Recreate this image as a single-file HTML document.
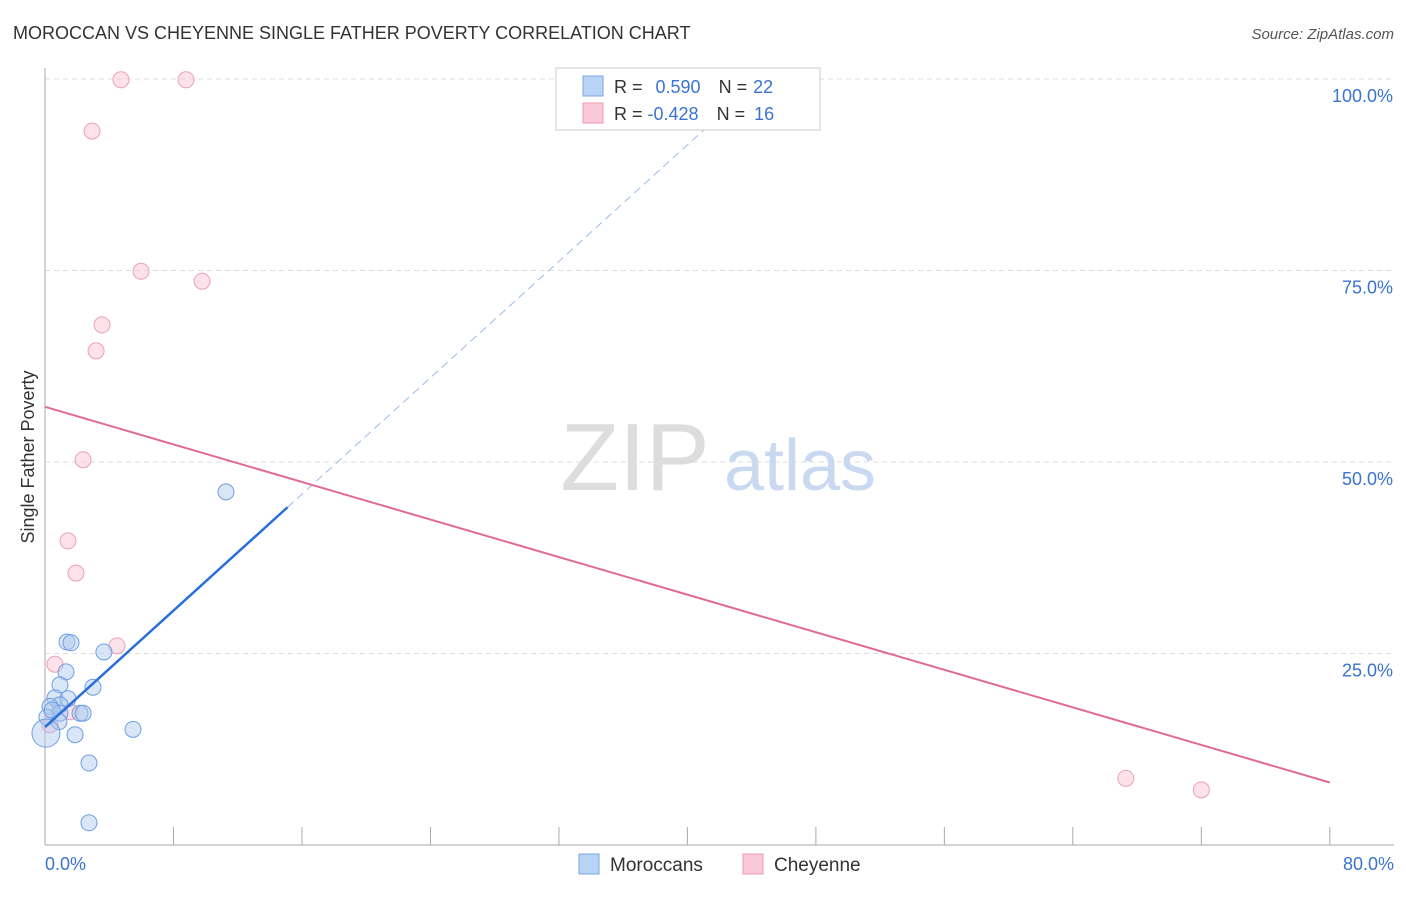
<!DOCTYPE html>
<html><head><meta charset="utf-8"><style>
body{margin:0;background:#fff;font-family:"Liberation Sans",sans-serif}
svg text{font-family:"Liberation Sans",sans-serif}
</style></head><body>
<svg width="1406" height="892">
<text x="13" y="39" font-size="18" fill="#333">MOROCCAN VS CHEYENNE SINGLE FATHER POVERTY CORRELATION CHART</text>
<text x="1394" y="39" font-size="15" fill="#555" font-style="italic" text-anchor="end">Source: ZipAtlas.com</text>
<g id="grid"></g>
<text x="635" y="490" font-size="96" fill="#ddd" font-family="Liberation Serif" text-anchor="middle">ZIP</text>
<text x="800" y="490" font-size="72" fill="#c9d9f0" text-anchor="middle">atlas</text>
<line x1="45" y1="68" x2="45" y2="845" stroke="#aaa"/>
<line x1="45" y1="845" x2="1394" y2="845" stroke="#aaa"/>
<text x="34" y="457" font-size="18" fill="#333" text-anchor="middle" transform="rotate(-90 34 457)">Single Father Poverty</text>
<text x="45" y="870" font-size="18" fill="#3a73d0">0.0%</text>
<text x="1394" y="870" font-size="18" fill="#3a73d0" text-anchor="end">80.0%</text>
<g id="marks"></g>
<rect x="556" y="68" width="264" height="62" fill="#fff" stroke="#ccc"/>
<rect x="583" y="76" width="20" height="20" fill="#b9d3f5" stroke="#7aa6e6"/>
<rect x="583" y="103" width="20" height="20" fill="#fac8d6" stroke="#ec9ab2"/>
<text x="614" y="93" font-size="18" fill="#333">R = <tspan fill="#3a73d0" dx="8">0.590</tspan><tspan dx="18" fill="#333">N =</tspan><tspan fill="#3a73d0" dx="6">22</tspan></text>
<text x="614" y="120" font-size="18" fill="#333">R = <tspan fill="#3a73d0">-0.428</tspan><tspan dx="18" fill="#333">N =</tspan><tspan fill="#3a73d0" dx="9">16</tspan></text>
<rect x="579" y="854" width="20" height="20" fill="#b9d3f5" stroke="#7aa6e6"/>
<text x="610" y="871" font-size="19" fill="#333">Moroccans</text>
<rect x="743" y="854" width="20" height="20" fill="#fac8d6" stroke="#ec9ab2"/>
<text x="774" y="871" font-size="19" fill="#333">Cheyenne</text>
</svg>
<script>
const yTicks=[25,50,75,100];
const yTickLabels=["25.0%","50.0%","75.0%","100.0%"];
const xTicks=[0,8,16,24,32,40,48,56,64,72,80];
const blueX=[1.37,1.62,3.67,1.31,0.93,2.99,0.62,1.43,0.93,0.31,0.93,2.18,2.37,0.12,0.87,1.87,5.48,2.74,2.74,11.27,0.06,0.44];
const blueY=[26.5,26.4,25.2,22.6,20.9,20.6,19.2,19.1,18.3,18.1,17.2,17.2,17.2,16.7,16.1,14.4,15.1,10.7,2.9,46.1,14.6,17.6];
const pinkX=[4.73,8.78,2.93,5.98,9.78,3.55,3.18,2.37,1.43,1.93,4.48,0.62,67.3,72.0,0.3,1.56];
const pinkY=[99.9,99.9,93.2,74.9,73.6,67.9,64.5,50.3,39.7,35.5,26.0,23.6,8.7,7.2,15.7,17.4];
const blueLine=[15.4,1.9];const pinkLine=[57.2,-0.613];
const NS='http://www.w3.org/2000/svg';
const sx=v=>45+v*16.06, sy=v=>845-v*7.66;
const g=document.getElementById('grid'), m=document.getElementById('marks');
function mk(t,a,p){const e=document.createElementNS(NS,t);for(const k in a)e.setAttribute(k,a[k]);p.appendChild(e);return e;}
yTicks.forEach((t,i)=>{
 const l=mk('line',{x1:45,x2:1394,y1:sy(t),y2:sy(t),stroke:'#ddd','stroke-dasharray':'5,4'},g);
 
 
 const tx=mk('text',{x:1393,y:sy(t)+23,'font-size':18,fill:'#3a73d0','text-anchor':'end'},g);
 tx.textContent=yTickLabels[i];
 
 
});
xTicks.forEach(t=>{
 const l=mk('line',{x1:sx(t),x2:sx(t),y1:827,y2:845,stroke:'#aaa'},g);
 
 
});
pinkX.forEach((x,i)=>{
 const c=mk('circle',{cx:sx(x),cy:sy(pinkY[i]),r:8,fill:'rgba(250,190,208,0.45)',stroke:'#eba0b8'},m);
 
 
});
blueX.forEach((x,i)=>{
 const c=mk('circle',{cx:sx(x),cy:sy(blueY[i]),r:i==20?14:8,fill:'rgba(170,200,240,0.45)',stroke:'#6f9ee0'},m);
 
 
});
const bx1=Math.max(...blueX), bxe=(100-blueLine[0])/blueLine[1];
let l=mk('line',{x1:sx(0),y1:sy(blueLine[0]),x2:sx(bx1*1.34),y2:sy(blueLine[0]+blueLine[1]*bx1*1.34),stroke:'#2a6fd8','stroke-width':2.5},m);


l=mk('line',{x1:sx(bx1*1.34),y1:sy(blueLine[0]+blueLine[1]*bx1*1.34),x2:sx(bxe),y2:sy(100),stroke:'#9bbbe6','stroke-width':1,'stroke-dasharray':'8,5'},m);


l=mk('line',{x1:sx(0),y1:sy(pinkLine[0]),x2:sx(80),y2:sy(pinkLine[0]+pinkLine[1]*80),stroke:'#e06a94','stroke-width':2},m);


</script>
</body></html>
